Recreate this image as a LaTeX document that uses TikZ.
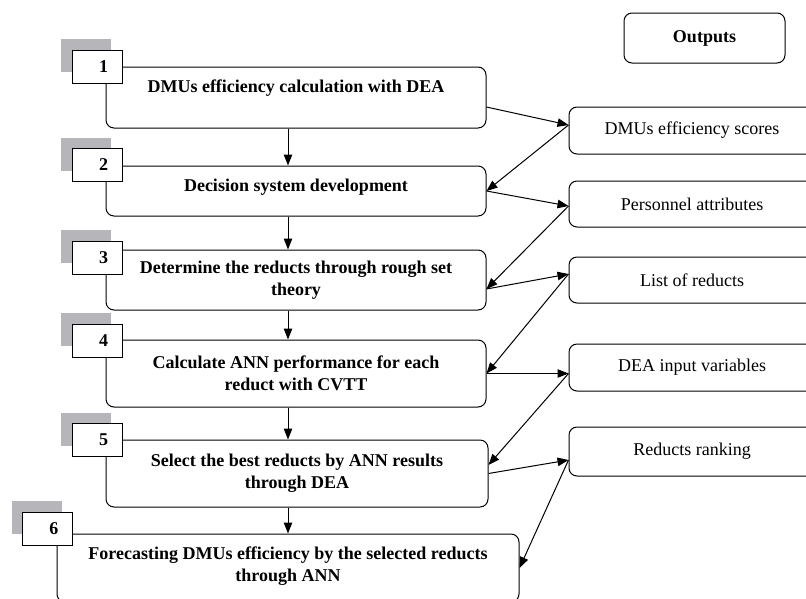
\documentclass[tikz,border=0pt]{standalone}
\usepackage{fontspec}
\setmainfont{Liberation Serif}
\usetikzlibrary{arrows.meta}
\definecolor{shadegray}{RGB}{182,182,186}

\begin{document}
\begin{tikzpicture}[
  x=1pt, y=-1pt,
  font=\fontsize{18}{22}\selectfont,
  >={Triangle[length=11pt,width=8.5pt]},
  stepbox/.style={draw, line width=1pt, rounded corners=8pt, align=center,
                  inner sep=0pt, font=\fontsize{18}{22}\selectfont\bfseries,
                  minimum width=380pt},
  numbox/.style={draw, line width=1pt, fill=white, minimum width=50pt,
                 minimum height=33pt, inner sep=0pt, text width=22pt,
                 align=right, font=\fontsize{18}{22}\selectfont\bfseries},
  shade/.style={fill=shadegray, minimum width=50pt, minimum height=33pt,
                inner sep=0pt},
  outbox/.style={draw, line width=1pt, rounded corners=8pt, inner sep=0pt,
                 minimum width=246pt, align=center},
  flow/.style={->, line width=1pt},
]
\clip (0,0) rectangle (806,598);

% ============ Process steps (left) ============
\node[stepbox, minimum height=61pt] (s1) at (296,97.5)
  {\raisebox{9.5pt}[\height][\depth]{DMUs efficiency calculation with DEA}};
\node[stepbox, minimum height=50pt] (s2) at (296,191)
  {\raisebox{4pt}[\height][\depth]{Decision system development}};
\node[stepbox, minimum height=60pt] (s3) at (296,280)
  {Determine the reducts through rough set\\theory};
\node[stepbox, minimum height=67pt] (s4) at (296,373.5)
  {Calculate ANN performance for each\\reduct with CVTT};
\node[stepbox, minimum height=67pt, minimum width=382pt] (s5) at (297,473.5)
  {Select the best reducts by ANN results\\through DEA};
\node[stepbox, minimum height=68pt, minimum width=462pt] (s6) at (288,568)
  {\raisebox{1.5pt}[\height][\depth]{\begin{tabular}{@{}c@{}}Forecasting DMUs efficiency by the selected reducts\\through ANN\end{tabular}}};

% ---- step numbers with grey shadow ----
\node[shade] (g1) at (86,55.5) {};
\node[shade] (g2) at (86,154) {};
\node[shade] (g3) at (86,246.5) {};
\node[shade] (g4) at (86,329.5) {};
\node[shade] (g5) at (86,429) {};
\node[shade] (g6) at (36.5,517.5) {};
\node[numbox] (n1) at ([shift={(11,11)}]g1.center) {1};
\node[numbox] (n2) at ([shift={(11,11)}]g2.center) {2};
\node[numbox] (n3) at ([shift={(11,11)}]g3.center) {3};
\node[numbox] (n4) at ([shift={(11,11)}]g4.center) {4};
\node[numbox] (n5) at ([shift={(11,11)}]g5.center) {5};
\node[numbox] (n6) at ([shift={(11,11)}]g6.center) {6};

% ---- flow between steps ----
\draw[flow] ([xshift=-8pt]s1.south) -- ([xshift=-8pt]s1.south |- s2.north);
\draw[flow] ([xshift=-8pt]s2.south) -- ([xshift=-8pt]s2.south |- s3.north);
\draw[flow] ([xshift=-8pt]s3.south) -- ([xshift=-8pt]s3.south |- s4.north);
\draw[flow] ([xshift=-8pt]s4.south) -- ([xshift=-8pt]s4.south |- s5.north);
\draw[flow] ([xshift=-9pt]s5.south) -- ([xshift=-9pt]s5.south |- s6.north);

% ============ Outputs (right) ============
\node[outbox, font=\fontsize{18}{22}\selectfont\bfseries,
      minimum width=161pt, minimum height=50pt] (outhdr) at (704.5,38) {Outputs};
\node[outbox, minimum height=47pt] (o1) at (692,130.5) {DMUs efficiency scores};
\node[outbox, minimum height=46pt] (o2) at (692,204) {Personnel attributes};
\node[outbox, minimum height=46pt] (o3) at (692,280) {List of reducts};
\node[outbox, minimum height=47pt] (o4) at (692,367.5) {DEA input variables};
\node[outbox, minimum height=49pt] (o5) at (692,451.5) {Reducts ranking};

% ---- ports on the box sides ----
\coordinate (p1) at ([yshift=-9.5pt]s1.east);
\coordinate (p3) at ([yshift=-9pt]s3.east);
\coordinate (p5) at ([yshift=8.5pt]s5.east);
\coordinate (q1) at ([yshift=5.5pt]o1.west);
\coordinate (q2) at ([yshift=-2pt]o2.west);
\coordinate (q3) at ([yshift=6pt]o3.west);
\coordinate (q4) at ([yshift=-6pt]o4.west);
\coordinate (q5) at ([yshift=-8.5pt]o5.west);

% ---- steps <-> outputs ----
\draw[flow] (p1) -- (q1);
\draw[flow] (q1) -- (s2.east);
\draw[flow] (s2.east) -- (q2);
\draw[flow] (q2) -- (p3);
\draw[flow] (p3) -- (q3);
\draw[flow] (q3) -- (s4.east);
\draw[flow] (s4.east) -- (q4);
\draw[flow] (q4) -- (p5);
\draw[flow] (s5.east) -- (q5);
\draw[flow] (q5) -- (s6.east);

\end{tikzpicture}
\end{document}
